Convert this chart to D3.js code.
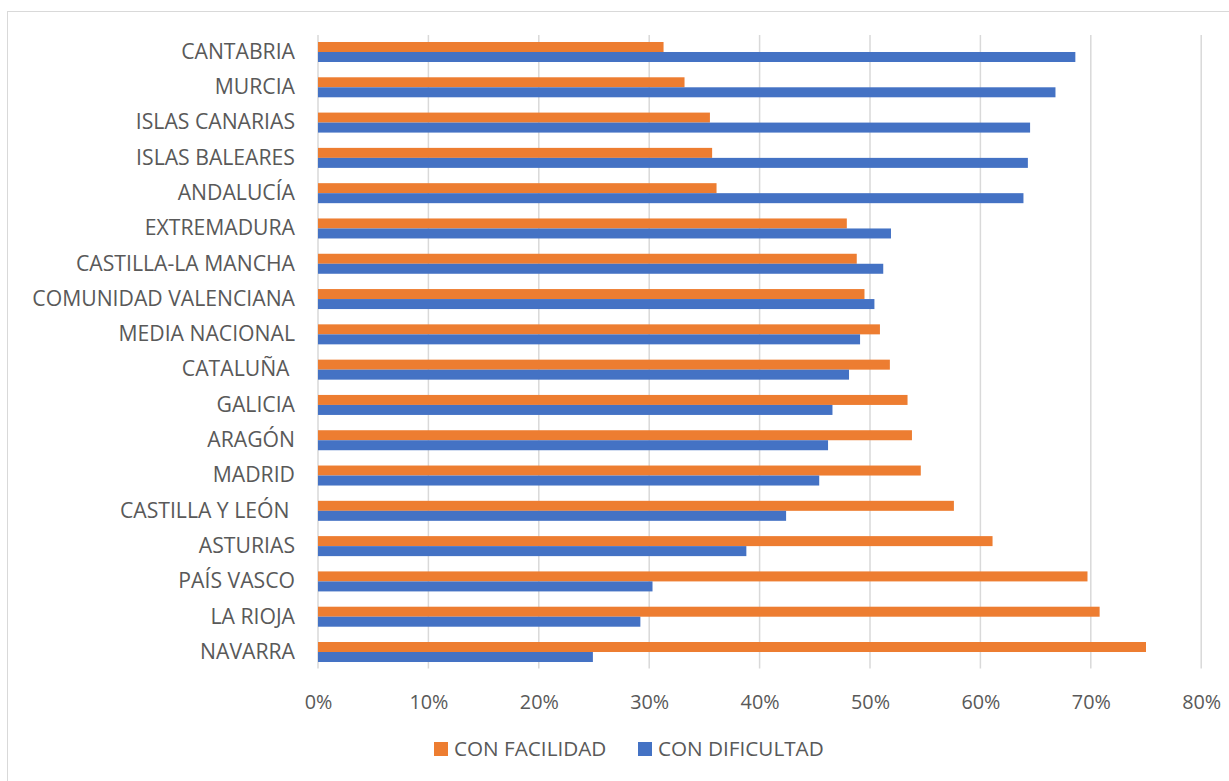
<!DOCTYPE html>
<html>
<head>
<meta charset="utf-8">
<script src="https://cdn.jsdelivr.net/npm/d3@7"></script>
<style>
  html, body { margin: 0; padding: 0; background: #fff; }
  svg { display: block; font-family: "Open Sans", sans-serif; }
  text { white-space: pre; }
</style>
</head>
<body>
<svg id="chart" width="1229" height="781"></svg>
<script>
// Regions, top to bottom
const regions = [
  "CANTABRIA", "MURCIA", "ISLAS CANARIAS", "ISLAS BALEARES", "ANDALUCÍA",
  "EXTREMADURA", "CASTILLA-LA MANCHA", "COMUNIDAD VALENCIANA", "MEDIA NACIONAL",
  "CATALUÑA ", "GALICIA", "ARAGÓN", "MADRID", "CASTILLA Y LEÓN ",
  "ASTURIAS", "PAÍS VASCO", "LA RIOJA", "NAVARRA"
];

// Share of respondents (fraction)
const conFacilidad = [
  0.313, 0.332, 0.355, 0.357, 0.361,
  0.479, 0.488, 0.495, 0.509,
  0.518, 0.534, 0.538, 0.546, 0.576,
  0.611, 0.697, 0.708, 0.750
];
const conDificultad = [
  0.686, 0.668, 0.645, 0.643, 0.639,
  0.519, 0.512, 0.504, 0.491,
  0.481, 0.466, 0.462, 0.454, 0.424,
  0.388, 0.303, 0.292, 0.249
];

const xTicks = [0, 0.1, 0.2, 0.3, 0.4, 0.5, 0.6, 0.7, 0.8];
const seriesNames = ["CON FACILIDAD", "CON DIFICULTAD"];
const seriesColors = ["#ED7D31", "#4472C4"];

const textColor = "#595959";
const gridColor = "#d9d9d9";

const svg = d3.select("#chart");

// Chart frame
svg.append("rect")
  .attr("x", 7.5).attr("y", 11.5)
  .attr("width", 1300).attr("height", 900)
  .attr("fill", "none")
  .attr("stroke", gridColor)
  .attr("stroke-width", 1);

const plotTop = 34.35, plotBottom = 669.65;
const x = d3.scaleLinear().domain([0, 0.8]).range([318, 1201.2]);

const pad = 0.4333;
const y = d3.scaleBand()
  .domain(regions)
  .range([plotTop, plotBottom])
  .paddingInner(pad)
  .paddingOuter(pad / 2);

const ySub = d3.scaleBand()
  .domain(seriesNames)
  .range([0, y.bandwidth()]);

// Vertical gridlines
svg.append("g")
  .selectAll("line")
  .data(xTicks)
  .join("line")
  .attr("x1", d => x(d)).attr("x2", d => x(d))
  .attr("y1", 35).attr("y2", 668.5)
  .attr("stroke", gridColor)
  .attr("stroke-width", 1.5);

// Bars
const rows = regions.map((r, i) => ({
  region: r,
  values: [conFacilidad[i], conDificultad[i]]
}));

const groups = svg.append("g")
  .selectAll("g")
  .data(rows)
  .join("g")
  .attr("transform", d => `translate(0,${y(d.region)})`);

groups.selectAll("rect")
  .data(d => d.values.map((v, k) => ({ key: seriesNames[k], value: v, color: seriesColors[k] })))
  .join("rect")
  .attr("x", x(0))
  .attr("y", d => ySub(d.key))
  .attr("width", d => x(d.value) - x(0))
  .attr("height", ySub.bandwidth())
  .attr("fill", d => d.color);

// Category axis
const yAxis = d3.axisLeft(y).tickSize(0).tickPadding(23);
const gy = svg.append("g")
  .attr("transform", `translate(${x(0)},0)`)
  .call(yAxis);
gy.select(".domain").remove();
gy.selectAll("text")
  .attr("fill", textColor)
  .style("font-size", "21.2px")
  .style("font-family", "'Open Sans', sans-serif");

// Value axis
const xAxis = d3.axisBottom(x)
  .tickValues(xTicks)
  .tickFormat(d3.format(".0%"))
  .tickSize(0)
  .tickPadding(0);
const gx = svg.append("g")
  .attr("transform", "translate(0,694)")
  .call(xAxis);
gx.select(".domain").remove();
gx.selectAll("text")
  .attr("fill", textColor)
  .attr("dy", "0.75em")
  .style("font-size", "19.8px")
  .style("font-family", "'Open Sans', sans-serif");

// Legend
const legendItems = [
  { name: seriesNames[0], color: seriesColors[0], x: 434 },
  { name: seriesNames[1], color: seriesColors[1], x: 638 }
];
const lg = svg.append("g")
  .selectAll("g")
  .data(legendItems)
  .join("g")
  .attr("transform", d => `translate(${d.x},742)`);
lg.append("rect")
  .attr("width", 14).attr("height", 14)
  .attr("fill", d => d.color);
lg.append("text")
  .attr("x", 20).attr("y", 7)
  .attr("dy", "0.35em")
  .attr("fill", textColor)
  .style("font-size", "20.7px")
  .text(d => d.name);
</script>
</body>
</html>
